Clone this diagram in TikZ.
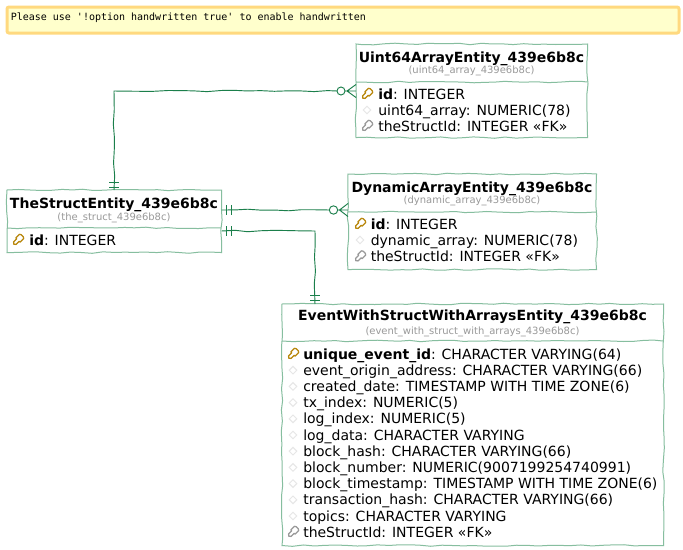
\documentclass[tikz,border=0pt]{standalone}
\usepackage{fontspec}
\setmainfont{DejaVu Sans}
\newfontfamily\notefont{DejaVu Sans Mono}
\usetikzlibrary{decorations.pathmorphing,calc}
\definecolor{lnk}{HTML}{1B7F4B}
\definecolor{bord}{HTML}{86BE9F}
\definecolor{subc}{HTML}{999999}
\definecolor{pkc}{HTML}{B8860B}
\definecolor{fkc}{HTML}{999999}
\definecolor{dmc}{HTML}{E6E6E6}
\definecolor{noteb}{HTML}{FFD97F}
\definecolor{notef}{HTML}{FFFFCC}
\tikzset{
  x=0.75pt,y=-0.75pt,
  wob/.style={decorate,decoration={random steps,segment length=8pt,amplitude=0.6pt}},
  entity/.style={rectangle,fill=white,inner sep=0pt,anchor=north west},
  boxline/.style={draw=bord,line width=0.75pt,wob},
  sepline/.style={draw=bord,line width=0.75pt,wob},
  title/.style={font=\fontsize{10.5}{10.5}\selectfont\bfseries,anchor=base,inner sep=0pt,text=black},
  subt/.style={font=\fontsize{7.5}{7.5}\selectfont,anchor=base,inner sep=0pt,text=subc},
  attr/.style={font=\fontsize{10.5}{10.5}\selectfont,anchor=base west,inner sep=0pt,text=black},
  rel/.style={draw=lnk,line width=0.7pt,decorate,decoration={random steps,segment length=10pt,amplitude=0.6pt}},
  relmark/.style={draw=lnk,line width=0.7pt},
  notebox/.style={rectangle,draw=noteb,line width=2.25pt,fill=notef,rounded corners=1.5pt,inner sep=0pt,anchor=north west,minimum width=504pt,minimum height=19.5pt},
}
\newcommand{\keyic}[3]{\begin{scope}[shift={(#1,#2)},rotate=45]
  \draw[draw=#3,line width=0.95pt,fill=white,line join=round] (-6,0) -- (-4.5,-1.7) -- (0,-1.7) -- (0,-3) -- (5,-3) -- (6,-1.5) -- (6,1.5) -- (5,3) -- (0,3) -- (0,1.7) -- (-4.5,1.7) -- cycle;
\end{scope}}
\newcommand{\dotic}[2]{\draw[draw=dmc,line width=0.7pt,fill=white] (#1-3.8,#2) -- (#1,#2-3.8) -- (#1+3.8,#2) -- (#1,#2+3.8) -- cycle;}
\pgfmathsetseed{4242}
\begin{document}
\begin{tikzpicture}
\useasboundingbox (0,0) rectangle (683,550);
\fill[white] (0,0) rectangle (683,550);
% note
\node[notebox] (note) at (5.5,5.5) {};
\node[font=\notefont\fontsize{7.5}{7.5}\selectfont,anchor=base west,inner sep=0pt] (notetext) at (10.5,20.5) {Please use '!option handwritten true' to enable handwritten};

% entities
\node[entity,minimum width=173.25pt,minimum height=69.75pt] (uint) at (356,44) {};
\node[entity,minimum width=186pt,minimum height=71.25pt] (dyn) at (348,174) {};
\node[entity,minimum width=160.5pt,minimum height=46.5pt] (str) at (7,190) {};
\node[entity,minimum width=285.75pt,minimum height=180.75pt] (evt) at (282,304) {};
\draw[boxline] (uint.north west) rectangle (uint.south east);
\draw[boxline] (dyn.north west) rectangle (dyn.south east);
\draw[boxline] (str.north west) rectangle (str.south east);
\draw[boxline] (evt.north west) rectangle (evt.south east);

% separators
\draw[sepline] (356,82) -- (587,82);
\draw[sepline] (348,212) -- (596,212);
\draw[sepline] (7,228) -- (221,228);
\draw[sepline] (282,341) -- (663,341);

% connectors
\coordinate (c1a) at (str.north -| 114,0);
\coordinate (c1b) at (114,91);
\coordinate (c1c) at (uint.west |- 0,91);
\coordinate (c2a) at (str.east |- 0,210);
\coordinate (c2c) at (dyn.west |- 0,210);
\coordinate (c3a) at (str.east |- 0,231);
\coordinate (c3b) at (315,231);
\coordinate (c3c) at (evt.north -| 315,0);

\draw[rel] (c1a) -- (c1b) -- (337,91);
\draw[relmark] (109,187) -- (119,187) (109,182) -- (119,182);
\draw[relmark,fill=white] (341,91) circle (4);
\draw[relmark] (c1c) -- (345,91) (356,84.5) -- (347,91) -- (356,97.5);

\draw[rel] (c2a) -- (329.5,210);
\draw[relmark] (226,205) -- (226,215) (231,205) -- (231,215);
\draw[relmark,fill=white] (333.5,210) circle (4.2);
\draw[relmark] (c2c) -- (337.7,210) (348,203.5) -- (339.5,210) -- (348,216.5);

\draw[rel] (c3a) -- (c3b) -- (c3c);
\draw[relmark] (226,226) -- (226,236) (231,226) -- (231,236);
\draw[relmark] (310,295) -- (320,295) (310,300) -- (320,300);

% uint
\node[title] (ut) at (471.5,62.3) {Uint64ArrayEntity\_439e6b8c};
\node[subt] (us) at (471.5,73.7) {(uint64\_array\_439e6b8c)};
\keyic{367}{94}{pkc}
\node[attr] (u1) at (378,99) {\textbf{id}: INTEGER};
\dotic{367}{110}
\node[attr] (u2) at (378,115) {uint64\_array: NUMERIC(78)};
\keyic{367}{126}{fkc}
\node[attr] (u3) at (378,131) {theStructId: INTEGER «FK»};

% dyn
\node[title] (dt) at (472,192.7) {DynamicArrayEntity\_439e6b8c};
\node[subt] (ds) at (472,203.5) {(dynamic\_array\_439e6b8c)};
\keyic{360}{224}{pkc}
\node[attr] (d1) at (370.5,229) {\textbf{id}: INTEGER};
\dotic{360}{240}
\node[attr] (d2) at (370.5,245) {dynamic\_array: NUMERIC(78)};
\keyic{360}{256.5}{fkc}
\node[attr] (d3) at (370.5,261) {theStructId: INTEGER «FK»};

% struct
\node[title] (st) at (114,208.3) {TheStructEntity\_439e6b8c};
\node[subt] (ss) at (114,220.7) {(the\_struct\_439e6b8c)};
\keyic{18}{240}{pkc}
\node[attr] (s1) at (29,245) {\textbf{id}: INTEGER};

% event
\node[title] (et) at (472.5,320.7) {EventWithStructWithArraysEntity\_439e6b8c};
\node[subt] (es) at (472.5,334) {(event\_with\_struct\_with\_arrays\_439e6b8c)};
\keyic{293}{354}{pkc}
\node[attr] (e1) at (303,359) {\textbf{unique\_event\_id}: CHARACTER VARYING(64)};
\dotic{293}{370.2}
\node[attr] (e2) at (303,375.2) {event\_origin\_address: CHARACTER VARYING(66)};
\dotic{293}{386.4}
\node[attr] (e3) at (303,391.4) {created\_date: TIMESTAMP WITH TIME ZONE(6)};
\dotic{293}{402.6}
\node[attr] (e4) at (303,407.6) {tx\_index: NUMERIC(5)};
\dotic{293}{418.8}
\node[attr] (e5) at (303,423.8) {log\_index: NUMERIC(5)};
\dotic{293}{435}
\node[attr] (e6) at (303,440) {log\_data: CHARACTER VARYING};
\dotic{293}{451.2}
\node[attr] (e7) at (303,456.2) {block\_hash: CHARACTER VARYING(66)};
\dotic{293}{467.4}
\node[attr] (e8) at (303,472.4) {block\_number: NUMERIC(9007199254740991)};
\dotic{293}{483.6}
\node[attr] (e9) at (303,488.6) {block\_timestamp: TIMESTAMP WITH TIME ZONE(6)};
\dotic{293}{499.8}
\node[attr] (e10) at (303,504.8) {transaction\_hash: CHARACTER VARYING(66)};
\dotic{293}{516}
\node[attr] (e11) at (303,521) {topics: CHARACTER VARYING};
\keyic{293}{532}{fkc}
\node[attr] (e12) at (303,537.2) {theStructId: INTEGER «FK»};
\end{tikzpicture}
\end{document}
